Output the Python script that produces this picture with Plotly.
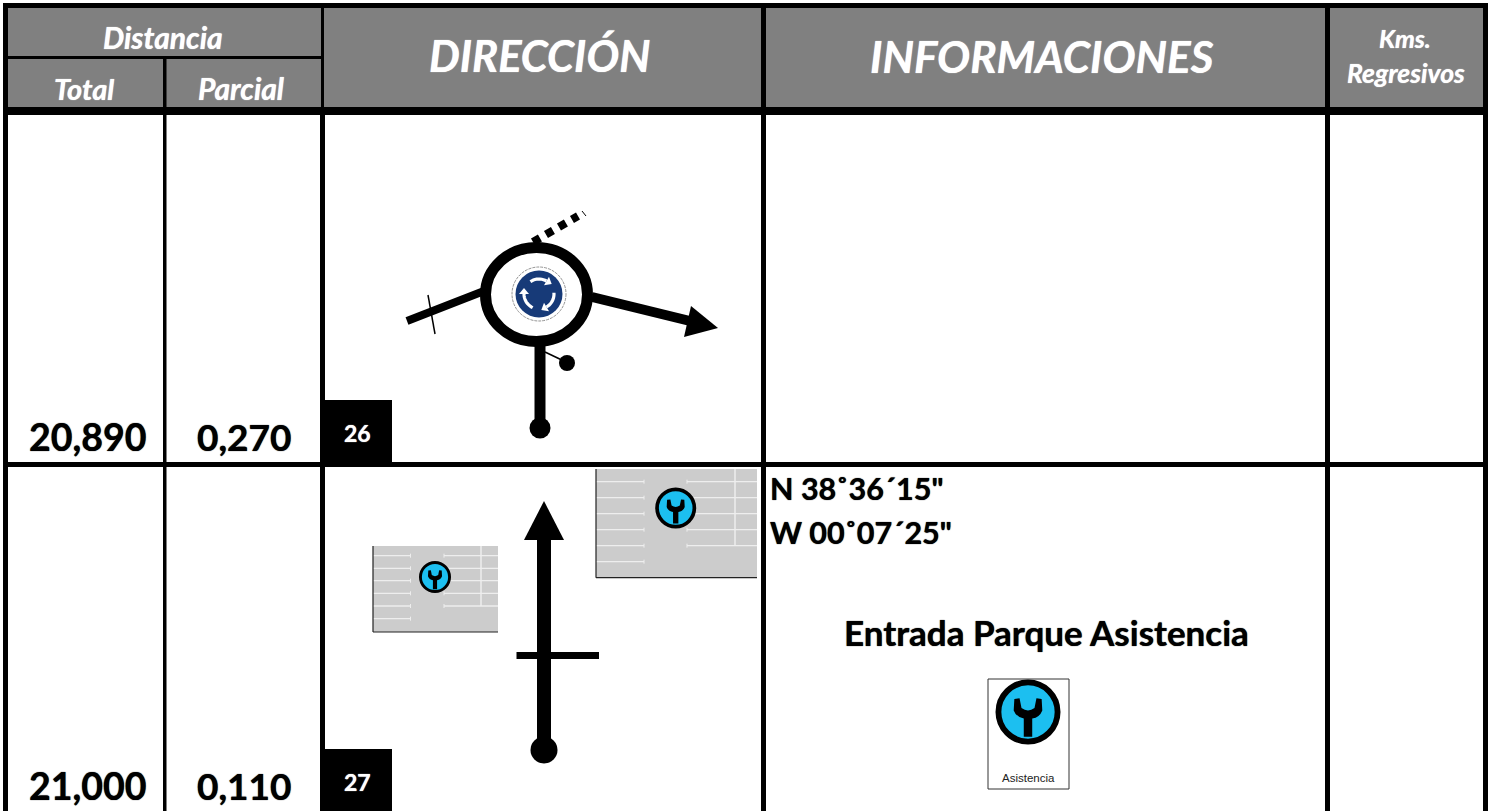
import math
import plotly.graph_objects as go

# --- chart content ---
header_top = ["Distancia"]
header_sub = ["Total", "Parcial"]
header_main = ["DIRECCIÓN", "INFORMACIONES"]
header_right = ["Kms.", "Regresivos"]
distancia_total = ["20,890", "21,000"]
distancia_parcial = ["0,270", "0,110"]
casilla = ["26", "27"]
coordenadas = ['N 38˚36´15"', 'W 00˚07´25"']
informacion = "Entrada Parque Asistencia"
icono_texto = "Asistencia"

FONT = "Lato, Carlito, Calibri, sans-serif"
BLACK = "#000000"
GREY = "#808080"
LIGHT = "#cccccc"
CYAN = "#1cbff0"
BLUE = "#173a78"

shapes = []
annots = []


def rect(x0, y0, x1, y1, fill=BLACK, line=None, lw=0):
    shapes.append(dict(type="rect", xref="x", yref="y", x0=x0, y0=y0, x1=x1, y1=y1,
                       fillcolor=fill, line=dict(color=line or fill, width=lw)))


def line(x0, y0, x1, y1, w, color=BLACK, dash=None):
    ln = dict(color=color, width=w)
    if dash:
        ln["dash"] = dash
    shapes.append(dict(type="line", xref="x", yref="y", x0=x0, y0=y0, x1=x1, y1=y1, line=ln))


def circle(cx, cy, rx, ry=None, fill=BLACK, lc=None, lw=0, dash=None):
    ry = rx if ry is None else ry
    ln = dict(color=lc or fill, width=lw)
    if dash:
        ln["dash"] = dash
    shapes.append(dict(type="circle", xref="x", yref="y", x0=cx - rx, x1=cx + rx,
                       y0=cy - ry, y1=cy + ry, fillcolor=fill, line=ln))


def path(d, fill=BLACK, lc=None, lw=0):
    shapes.append(dict(type="path", xref="x", yref="y", path=d, fillcolor=fill,
                       line=dict(color=lc or fill, width=lw)))


def text(x, y, s, size, color=BLACK, bold=True, italic=False, anchor="center", family=FONT, heavy=True):
    f = dict(family=family, size=size, color=color,
             weight="bold" if bold else "normal",
             style="italic" if italic else "normal")
    if heavy:
        f["shadow"] = f"0 0 1px {color}"
    annots.append(dict(xref="x", yref="y", x=x, y=y, text=s, showarrow=False, xanchor=anchor,
                       yanchor="middle", font=f))


def wrench_icon(cx, cy, r):
    ring = 0.18 * r
    circle(cx, cy, r - ring / 2, fill=CYAN, lc=BLACK, lw=ring)
    pts = [("M", -0.42, -0.40), ("L", -0.26, -0.42), ("L", -0.20, -0.12), ("Q", 0, 0.02, 0.20, -0.12),
           ("L", 0.26, -0.42), ("L", 0.42, -0.40), ("L", 0.44, -0.05), ("Q", 0.36, 0.16, 0.13, 0.20),
           ("L", 0.13, 0.76), ("L", -0.13, 0.76), ("L", -0.13, 0.20), ("Q", -0.36, 0.16, -0.44, -0.05)]
    d = ""
    for p in pts:
        vals = p[1:]
        coords = []
        for i in range(0, len(vals), 2):
            coords.append(f"{cx + vals[i] * r:.2f},{cy + vals[i + 1] * r:.2f}")
        d += p[0] + " ".join(coords) + " "
    path(d + "Z")


def parking(x0, y0, x1, y1, left_end, right_start, vert_x, rows, icon, icon_r):
    rect(x0, y0, x1, y1, fill=LIGHT)
    for i, y in enumerate(rows):
        line(x0, y, left_end, y, 1.3, "#eeeeee")
        line(left_end, y - 2, left_end, y + 2, 1, "#eeeeee")
        if i < len(rows) - 1:
            line(right_start, y, x1, y, 1.3, "#eeeeee")
            line(right_start, y - 2, right_start, y + 2, 1, "#eeeeee")
    line(vert_x, y0, vert_x, rows[-2], 1.5, "#eeeeee")
    line(x0, y0, x0, y1, 1.2, "#222222")
    line(x0, y1, x1, y1, 1.2, "#222222")
    wrench_icon(icon[0], icon[1], icon_r)


# --- table frame ---
rect(8, 8, 1483, 107, fill=GREY)
rect(3, 3, 1488, 8)
rect(3, 107, 1488, 115)
rect(8, 56, 321, 59)
rect(3, 3, 8, 811)
rect(1483, 3, 1488, 811)
rect(163, 59, 166.5, 811)
rect(321, 8, 324, 115)
rect(320, 115, 325, 811)
rect(761, 8, 766, 811)
rect(1325, 8, 1330, 811)
rect(3, 462, 1488, 467)
rect(320, 400, 392, 462)
rect(320, 749, 392, 811)

# --- roundabout sketch ---
line(407, 321, 484, 291, 8)
line(428, 295, 435, 334, 1.5)
line(592, 297, 690, 321, 10)
path("M691,306 L718,328 L684,337 Z")
line(533, 242, 578, 216, 8, dash="8px,7px")
line(582, 211, 586, 216, 1)
line(540, 345, 540, 428, 11)
circle(540, 428, 10.5)
line(545, 352, 566, 362, 1.6)
circle(567, 363, 8)
circle(536.5, 294.5, 51, 47, fill="#ffffff", lc=BLACK, lw=11)
circle(539, 294, 27, fill="#ffffff", lc="#777777", lw=0.8, dash="3px,1px")
circle(539, 294, 23.5, fill=BLUE)
for a0 in (-125, -5, 115):
    pts = []
    for k in range(11):
        a = math.radians(a0 + k * 6.5)
        pts.append((539 + 15 * math.cos(a), 294 + 15 * math.sin(a)))
    d = "M" + " L".join(f"{px:.2f},{py:.2f}" for px, py in pts)
    path(d, fill="rgba(0,0,0,0)", lc="#ffffff", lw=3.2)
    a = math.radians(a0 + 65)
    ux, uy = math.cos(a), math.sin(a)
    tx, ty = -uy, ux
    hx, hy = 539 + 15 * ux, 294 + 15 * uy
    path(f"M{hx + 5 * ux:.2f},{hy + 5 * uy:.2f} L{hx + 6 * tx:.2f},{hy + 6 * ty:.2f} "
         f"L{hx - 5 * ux:.2f},{hy - 5 * uy:.2f} Z", fill="#ffffff")

# --- service park sketch ---
parking(373, 546, 498, 632, 410.5, 444, 481,
        [555.7, 568.3, 580.7, 593.3, 606, 618.7], (435, 577), 16)
parking(596, 469, 757, 577.7, 644, 687, 735,
        [481.7, 497.7, 513.7, 529.7, 545.7, 561.7], (675.7, 508), 20.5)
line(544, 530, 544, 750, 14)
path("M544,501 L564,540 L524,540 Z")
rect(516.5, 652, 599, 659)
circle(544, 750, 13.5)

# --- info icon ---
rect(988, 679, 1069, 789, fill="#ffffff", line="#333333", lw=1)
wrench_icon(1028, 712, 32.5)
text(1028, 778, icono_texto, 11.5, color="#222222", bold=False,
     family="Liberation Sans, Arial, sans-serif", heavy=False)

# --- header text ---
W = "#ffffff"
text(163, 37, header_top[0], 30, W, italic=True)
text(84, 88, header_sub[0], 29, W, italic=True)
text(241, 88, header_sub[1], 30, W, italic=True)
text(539.5, 55, header_main[0], 43.5, W, italic=True)
text(1042, 56, header_main[1], 44, W, italic=True)
text(1405, 38, header_right[0], 25, W, italic=True)
text(1405.5, 73, header_right[1], 26.5, W, italic=True)

# --- row text ---
for i, y in enumerate((436, 785)):
    text(87.5, y, distancia_total[i], 37.5)
    text(244.5, y, distancia_parcial[i], 37)
    text(357.5, y - 3, casilla[i], 23, W)
text(768, 488, coordenadas[0], 30.5, anchor="left")
text(768, 532, coordenadas[1], 30.5, anchor="left")
text(1046, 632, informacion, 35)

fig = go.Figure()
fig.update_layout(
    width=1494, height=811, margin=dict(l=0, r=0, t=0, b=0),
    paper_bgcolor="#ffffff", plot_bgcolor="#ffffff", showlegend=False,
    xaxis=dict(range=[0, 1494], visible=False, fixedrange=True),
    yaxis=dict(range=[811, 0], visible=False, fixedrange=True),
    shapes=shapes, annotations=annots,
)
fig.write_html("out.html", config={"displayModeBar": False},
               post_script="document.body.style.margin='0';document.body.style.overflow='hidden';")
